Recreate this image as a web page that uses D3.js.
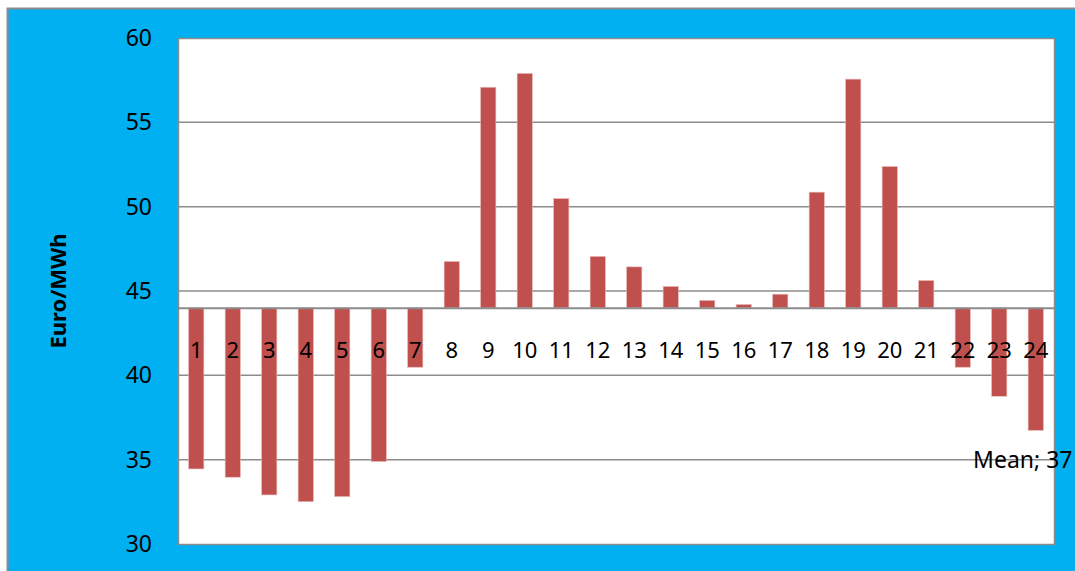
<!DOCTYPE html>
<html>
<head>
<meta charset="utf-8">
<script src="https://cdn.jsdelivr.net/npm/d3@7"></script>
<style>
  html, body { margin: 0; padding: 0; background: #ffffff; }
  svg { display: block; }
</style>
</head>
<body>
<svg id="chart" width="1075" height="571"></svg>
<script>
// ---- data ----
const hours = ["1","2","3","4","5","6","7","8","9","10","11","12","13","14","15","16","17","18","19","20","21","22","23","24"];
const prices = [34.45, 33.96, 32.91, 32.51, 32.81, 34.89, 40.48, 46.75, 57.08, 57.9, 50.48, 47.05, 46.43, 45.27, 44.44, 44.2, 44.81, 50.86, 57.56, 52.38, 45.62, 40.48, 38.76, 36.74];
const yTicks = [30, 35, 40, 45, 50, 55, 60];
const crossValue = 44;
const seriesName = "Mean";
const yTitle = "Euro/MWh";

// ---- layout ----
const W = 1075, H = 571;
const plot = { left: 178, top: 38, right: 1054, bottom: 544 };
const svg = d3.select("#chart");
const font = "'Noto Sans', 'DejaVu Sans', sans-serif";

// outer chart area
svg.append("rect")
  .attr("x", 7.5).attr("y", 8.5)
  .attr("width", W + 20).attr("height", H + 20)
  .attr("fill", "#00B0F0")
  .attr("stroke", "#8C8C8C").attr("stroke-width", 2);

const x = d3.scaleBand().domain(hours).range([plot.left, plot.right]).padding(0);
const y = d3.scaleLinear().domain([30, 60]).range([plot.bottom, plot.top]);

// plot area
svg.append("rect")
  .attr("x", plot.left + 0.5).attr("y", plot.top + 0.5)
  .attr("width", plot.right - plot.left).attr("height", plot.bottom - plot.top)
  .attr("fill", "#ffffff")
  .attr("stroke", "#8C8C8C").attr("stroke-width", 1.5);

// gridlines
svg.append("g").selectAll("line")
  .data(yTicks.filter(t => t > 30 && t < 60))
  .join("line")
  .attr("x1", plot.left).attr("x2", plot.right)
  .attr("y1", d => y(d)).attr("y2", d => y(d))
  .attr("stroke", "#8C8C8C").attr("stroke-width", 1.5);

// bars
const bw = x.bandwidth() / 2.4;
svg.append("g").selectAll("rect")
  .data(prices)
  .join("rect")
  .attr("x", (d, i) => x(hours[i]) + (x.bandwidth() - bw) / 2)
  .attr("width", bw)
  .attr("y", d => y(Math.max(d, crossValue)))
  .attr("height", d => Math.abs(y(d) - y(crossValue)))
  .attr("fill", "#C0504D")
  .attr("stroke", "#E8B8B6").attr("stroke-width", 0.6);

// horizontal (category) axis at crossing value
const xAxis = svg.append("g")
  .attr("transform", `translate(0,${y(crossValue)})`)
  .call(d3.axisBottom(x).tickSize(0).tickPadding(35));
xAxis.select(".domain").attr("stroke", "#8C8C8C").attr("stroke-width", 2);
xAxis.selectAll("text")
  .attr("font-family", font).attr("font-size", 22).attr("fill", "#000");

// y axis
const yAxis = svg.append("g")
  .attr("transform", `translate(${plot.left},0)`)
  .call(d3.axisLeft(y).tickValues(yTicks).tickSize(0).tickPadding(26));
yAxis.select(".domain").remove();
yAxis.selectAll("text")
  .attr("font-family", font).attr("font-size", 23).attr("fill", "#000");

// y title
svg.append("text")
  .attr("transform", `translate(66,${(plot.top + plot.bottom) / 2}) rotate(-90)`)
  .attr("text-anchor", "middle")
  .attr("font-family", font).attr("font-size", 22).attr("font-weight", "bold")
  .attr("fill", "#000")
  .text(yTitle);

// data label for last bar
const last = prices.length - 1;
svg.append("text")
  .attr("x", x(hours[last]) + x.bandwidth() / 2 - 13)
  .attr("y", y(prices[last]) + 38)
  .attr("text-anchor", "middle")
  .attr("font-family", font).attr("font-size", 23)
  .attr("fill", "#000")
  .text(`${seriesName}; ${Math.round(prices[last])}`);
</script>
</body>
</html>
